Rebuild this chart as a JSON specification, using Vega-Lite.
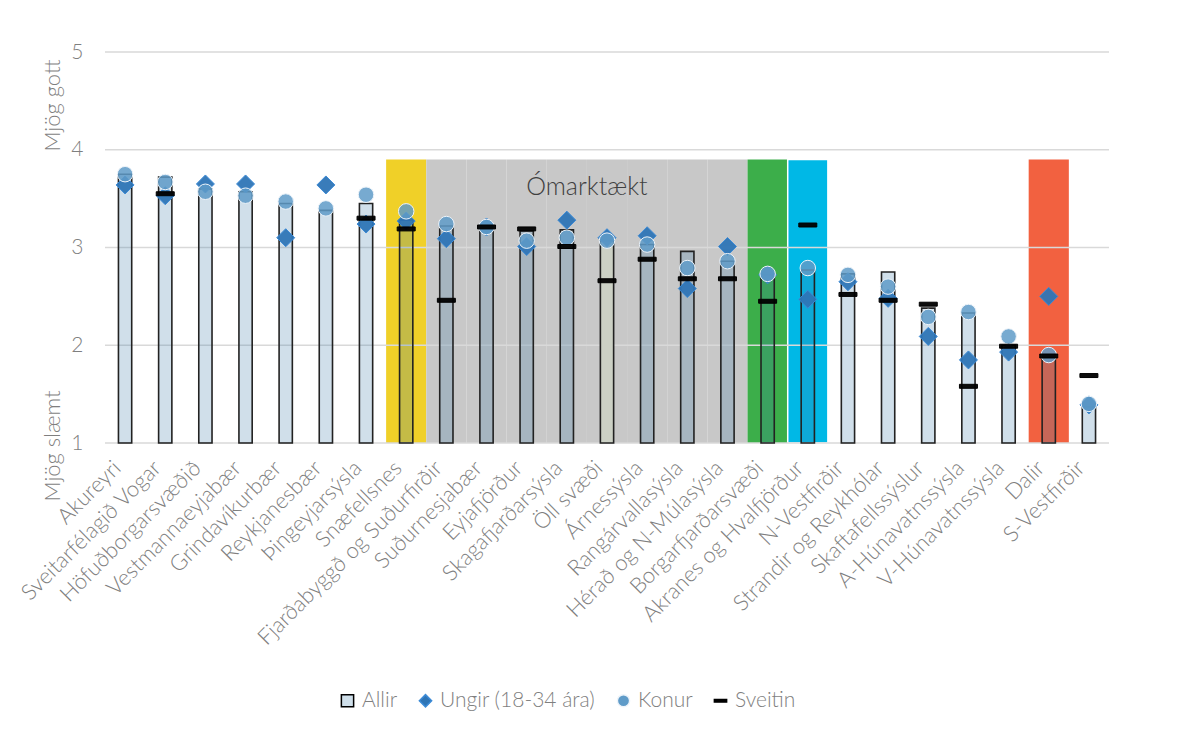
{
  "$schema": "https://vega.github.io/schema/vega-lite/v6.json",
  "width": 1004,
  "height": 391,
  "autosize": "none",
  "padding": {"left": 105, "top": 52, "right": 69, "bottom": 295},
  "background": "white",
  "config": {
    "font": "Lato",
    "view": {"stroke": null},
    "axis": {"labelFont": "Lato", "titleFont": "Lato"},
    "legend": {"labelFont": "Lato"}
  },
  "datasets": {
    "svaedi": [
      {"nafn": "Akureyri", "allir": 3.75, "ungir": 3.64, "konur": 3.75, "sveitin": null, "merking": null},
      {"nafn": "Sveitarfélagið Vogar", "allir": 3.72, "ungir": 3.53, "konur": 3.67, "sveitin": 3.55, "merking": null},
      {"nafn": "Höfuðborgarsvæðið", "allir": 3.6, "ungir": 3.65, "konur": 3.57, "sveitin": null, "merking": null},
      {"nafn": "Vestmannaeyjabær", "allir": 3.57, "ungir": 3.65, "konur": 3.53, "sveitin": null, "merking": null},
      {"nafn": "Grindavíkurbær", "allir": 3.45, "ungir": 3.1, "konur": 3.47, "sveitin": null, "merking": null},
      {"nafn": "Reykjanesbær", "allir": 3.38, "ungir": 3.64, "konur": 3.4, "sveitin": null, "merking": null},
      {"nafn": "Þingeyjarsýsla", "allir": 3.45, "ungir": 3.24, "konur": 3.54, "sveitin": 3.3, "merking": null},
      {"nafn": "Snæfellsnes", "allir": 3.28, "ungir": 3.27, "konur": 3.37, "sveitin": 3.19, "merking": "A"},
      {"nafn": "Fjarðabyggð og Suðurfirðir", "allir": 3.22, "ungir": 3.09, "konur": 3.24, "sveitin": 2.46, "merking": "Ó"},
      {"nafn": "Suðurnesjabær", "allir": 3.2, "ungir": 3.21, "konur": 3.21, "sveitin": 3.21, "merking": "Ó"},
      {"nafn": "Eyjafjörður", "allir": 3.17, "ungir": 3.01, "konur": 3.07, "sveitin": 3.19, "merking": "Ó"},
      {"nafn": "Skagafjarðarsýsla", "allir": 3.18, "ungir": 3.28, "konur": 3.1, "sveitin": 3.01, "merking": "Ó"},
      {"nafn": "Öll svæði", "allir": 3.07, "ungir": 3.1, "konur": 3.07, "sveitin": 2.66, "merking": "Ó"},
      {"nafn": "Árnessýsla", "allir": 3.03, "ungir": 3.12, "konur": 3.03, "sveitin": 2.88, "merking": "Ó"},
      {"nafn": "Rangárvallasýsla", "allir": 2.96, "ungir": 2.58, "konur": 2.79, "sveitin": 2.68, "merking": "Ó"},
      {"nafn": "Hérað og N-Múlasýsla", "allir": 2.86, "ungir": 3.01, "konur": 2.86, "sveitin": 2.68, "merking": "Ó"},
      {"nafn": "Borgarfjarðarsvæði", "allir": 2.72, "ungir": 2.72, "konur": 2.73, "sveitin": 2.45, "merking": "B"},
      {"nafn": "Akranes og Hvalfjörður", "allir": 2.77, "ungir": 2.47, "konur": 2.79, "sveitin": 3.23, "merking": "C"},
      {"nafn": "N-Vestfirðir", "allir": 2.73, "ungir": 2.65, "konur": 2.72, "sveitin": 2.52, "merking": null},
      {"nafn": "Strandir og Reykhólar", "allir": 2.75, "ungir": 2.48, "konur": 2.6, "sveitin": 2.46, "merking": null},
      {"nafn": "Skaftafellssýslur", "allir": 2.38, "ungir": 2.09, "konur": 2.29, "sveitin": 2.42, "merking": null},
      {"nafn": "A-Húnavatnssýsla", "allir": 2.33, "ungir": 1.85, "konur": 2.34, "sveitin": 1.58, "merking": null},
      {"nafn": "V-Húnavatnssýsla", "allir": 2.0, "ungir": 1.93, "konur": 2.09, "sveitin": 1.99, "merking": null},
      {"nafn": "Dalir", "allir": 1.88, "ungir": 2.5, "konur": 1.9, "sveitin": 1.89, "merking": "D"},
      {"nafn": "S-Vestfirðir", "allir": 1.37, "ungir": 1.39, "konur": 1.4, "sveitin": 1.69, "merking": null}
    ],
    "linur": [{"v": 1}, {"v": 2}, {"v": 3}, {"v": 4}, {"v": 5}],
    "skyring": [{"texti": "Ómarktækt"}]
  },
  "layer": [
    {
      "data": {"name": "svaedi"},
      "transform": [{"filter": "datum.merking != null"}],
      "mark": {"type": "rect"},
      "encoding": {
        "x": {"field": "nafn", "type": "nominal", "sort": null,
              "scale": {"paddingInner": 0, "paddingOuter": 0,
                        "domain": ["Akureyri", "Sveitarfélagið Vogar", "Höfuðborgarsvæðið", "Vestmannaeyjabær", "Grindavíkurbær", "Reykjanesbær", "Þingeyjarsýsla", "Snæfellsnes", "Fjarðabyggð og Suðurfirðir", "Suðurnesjabær", "Eyjafjörður", "Skagafjarðarsýsla", "Öll svæði", "Árnessýsla", "Rangárvallasýsla", "Hérað og N-Múlasýsla", "Borgarfjarðarsvæði", "Akranes og Hvalfjörður", "N-Vestfirðir", "Strandir og Reykhólar", "Skaftafellssýslur", "A-Húnavatnssýsla", "V-Húnavatnssýsla", "Dalir", "S-Vestfirðir"]},
              "axis": {"title": null, "labelAngle": -45, "labelFontSize": 22, "labelColor": "#7f7f7f",
                       "labelFontWeight": 300, "ticks": false, "domain": false, "labelPadding": 14,
                       "labelOffset": -15, "labelLimit": 400}},
        "y": {"datum": 3.9, "type": "quantitative",
              "scale": {"domain": [1, 5], "nice": false, "zero": false},
              "axis": {"values": [1, 2, 3, 4, 5], "format": "d", "grid": false, "ticks": false, "domain": false,
                       "labelFontSize": 21, "labelColor": "#7f7f7f", "labelFontWeight": 300, "labelPadding": 22,
                       "title": "Mjög slæmt\u00a0\u00a0\u00a0\u00a0\u00a0\u00a0\u00a0\u00a0\u00a0\u00a0\u00a0\u00a0\u00a0\u00a0\u00a0\u00a0\u00a0\u00a0\u00a0\u00a0\u00a0\u00a0\u00a0\u00a0\u00a0\u00a0\u00a0\u00a0\u00a0\u00a0\u00a0\u00a0\u00a0\u00a0\u00a0\u00a0\u00a0\u00a0\u00a0\u00a0Mjög gott",
                       "titleFontSize": 22, "titleColor": "#7f7f7f", "titleFontWeight": 300,
                       "titleX": -53, "titleY": 228, "titleBaseline": "middle", "titleAngle": -90}},
        "y2": {"datum": 1},
        "color": {"field": "merking", "type": "nominal", "legend": null,
                  "scale": {"domain": ["A", "Ó", "B", "C", "D"],
                            "range": ["#f0d028", "#c8c8c8", "#3cae4a", "#00b8e6", "#f26140"]}},
        "stroke": {"condition": {"test": "datum.merking === 'C'", "value": "#ffffff"}, "value": null},
        "strokeWidth": {"value": 1.5}
      }
    },
    {
      "data": {"name": "linur"},
      "mark": {"type": "rule", "color": "#d9d9d9", "strokeWidth": 1.5},
      "encoding": {"y": {"field": "v", "type": "quantitative"}}
    },
    {
      "data": {"name": "svaedi"},
      "mark": {"type": "bar", "width": {"band": 0.33}, "stroke": "#222222", "strokeWidth": 1.6},
      "encoding": {
        "x": {"field": "nafn", "type": "nominal", "sort": null},
        "y": {"field": "allir", "type": "quantitative"},
        "y2": {"datum": 1},
        "fill": {"condition": {"test": "datum.nafn === 'Öll svæði'", "value": "#ccd1c5"}, "value": "#3a7aa8"},
        "fillOpacity": {"condition": {"test": "datum.nafn === 'Öll svæði'", "value": 1}, "value": 0.24}
      }
    },
    {
      "data": {"name": "skyring"},
      "mark": {"type": "text", "fontSize": 25, "fontWeight": 300, "color": "#404040", "align": "center", "baseline": "middle"},
      "encoding": {
        "x": {"datum": "Öll svæði", "type": "nominal", "bandPosition": 0},
        "y": {"datum": 3.62, "type": "quantitative"},
        "text": {"field": "texti"}
      }
    },
    {
      "data": {"name": "svaedi"},
      "transform": [
        {"fold": ["ungir", "konur", "sveitin"], "as": ["hopur", "gildi"]},
        {"filter": "datum.gildi != null"}
      ],
      "mark": {"type": "point", "filled": true, "strokeWidth": 1, "opacity": 1},
      "encoding": {
        "x": {"field": "nafn", "type": "nominal", "sort": null},
        "y": {"field": "gildi", "type": "quantitative"},
        "shape": {"field": "hopur", "type": "nominal",
                  "scale": {"domain": ["allir", "ungir", "konur", "sveitin"],
                            "range": ["square", "diamond", "circle", "M-1,-0.22H1V0.22H-1Z"]},
                  "legend": {"orient": "none", "legendX": 232, "legendY": 638, "direction": "horizontal",
                             "title": null, "labelFontSize": 21, "labelColor": "#7f7f7f", "labelFontWeight": 300,
                             "labelLimit": 300, "symbolSize": 150, "columnPadding": 17, "labelOffset": 4,
                             "labelExpr": "datum.label === 'allir' ? 'Allir' : datum.label === 'ungir' ? 'Ungir (18-34 ára)' : datum.label === 'konur' ? 'Konur' : 'Sveitin'"}},
        "fill": {"field": "hopur", "type": "nominal",
                 "scale": {"domain": ["allir", "ungir", "konur", "sveitin"],
                           "range": ["#cfdfea", "#2e75b6", "#5f9bc8", "#000000"]}},
        "stroke": {"field": "hopur", "type": "nominal",
                   "scale": {"domain": ["allir", "ungir", "konur", "sveitin"],
                             "range": ["#000000", "#3b8ad6", "#eef4fa", "#000000"]}},
        "size": {"condition": {"test": "datum.hopur === 'konur'", "value": 240}, "value": 324},
        "fillOpacity": {"condition": {"test": "datum.hopur === 'konur'", "value": 0.85}, "value": 0.95}
      }
    }
  ]
}
